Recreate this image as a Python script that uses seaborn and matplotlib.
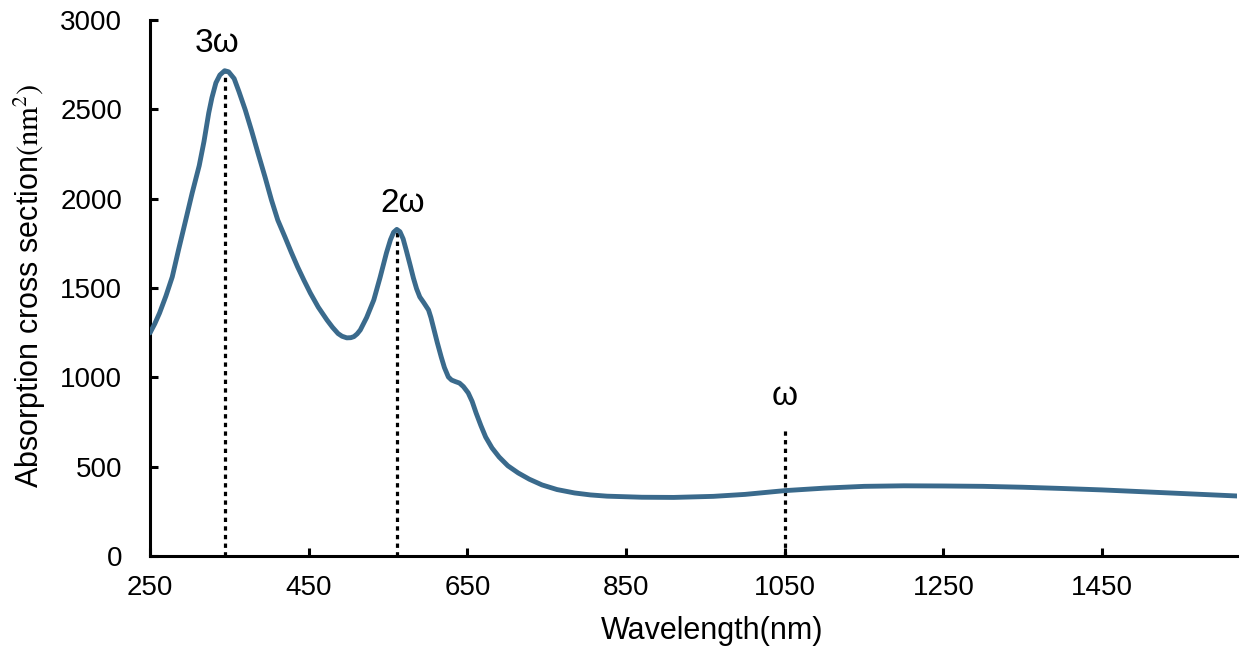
import numpy as np
import pandas as pd
import matplotlib
matplotlib.use("Agg")
import matplotlib.pyplot as plt
import seaborn as sns

# Data
wavelength = [250, 256, 262, 270, 278, 286, 295, 303, 312, 318, 324, 328, 333,
              338, 344, 349, 356, 362, 370, 378, 386, 395, 403, 411, 420, 428,
              436, 444, 452, 462, 473, 480, 487, 492, 498, 503, 507, 511, 515,
              523, 532, 540, 548, 553, 557, 561, 565, 569, 573, 578, 582, 586,
              590, 595, 601, 604, 608, 612, 617, 621, 626, 630, 635, 640, 645,
              651, 656, 661, 667, 673, 681, 690, 701, 714, 728, 744, 763, 785,
              805, 826, 870, 910, 960, 1000, 1050, 1100, 1150, 1200, 1250, 1300,
              1350, 1400, 1450, 1500, 1550, 1600, 1620]
absorption = [1249, 1300, 1360, 1455, 1562, 1715, 1881, 2030, 2185, 2320, 2480,
              2565, 2648, 2692, 2716, 2710, 2672, 2600, 2497, 2380, 2256, 2120,
              1993, 1880, 1786, 1700, 1618, 1543, 1472, 1393, 1321, 1280, 1245,
              1230, 1221, 1222, 1228, 1243, 1265, 1335, 1433, 1560, 1697, 1770,
              1812, 1828, 1815, 1775, 1710, 1625, 1555, 1495, 1450, 1418, 1377,
              1335, 1265, 1195, 1114, 1055, 1002, 985, 976, 968, 948, 913, 865,
              800, 730, 666, 605, 554, 505, 465, 430, 398, 372, 353, 342, 335,
              329, 328, 334, 345, 366, 380, 390, 393, 392, 390, 385, 378, 370,
              360, 350, 340, 336]

marker_labels = ["3ω", "2ω", "ω"]
marker_x = [345, 561, 1050]
marker_top = [2716, 1828, 705]
label_x = [334, 568, 1050]
label_y = [2822, 1926, 845]

x_ticks = [250, 450, 650, 850, 1050, 1250, 1450]
y_ticks = [0, 500, 1000, 1500, 2000, 2500, 3000]

sns.set_theme(style="ticks")
plt.rcParams["font.family"] = ["Liberation Sans", "DejaVu Sans"]
plt.rcParams["mathtext.fontset"] = "stix"

fig = plt.figure(figsize=(12.41, 6.55), dpi=100)
ax = fig.add_axes([0.1209, 0.1511, 0.8759, 0.8184])

df = pd.DataFrame({"Wavelength": wavelength, "Absorption": absorption})
sns.lineplot(data=df, x="Wavelength", y="Absorption", ax=ax, color="#3a6a8c",
             linewidth=3.5, solid_joinstyle="round", solid_capstyle="round",
             zorder=3)

for xv, top in zip(marker_x, marker_top):
    ax.plot([xv, xv], [0, top], color="black", linewidth=2.3,
            linestyle=(0, (1.35, 1.35)), zorder=2)
for lab, lx, ly in zip(marker_labels, label_x, label_y):
    ax.text(lx, ly, lab, ha="center", va="baseline", fontsize=24,
            color="black")

ax.set_xlim(250, 1620)
ax.set_ylim(0, 3000)
ax.set_xticks(x_ticks)
ax.set_yticks(y_ticks)
ax.tick_params(axis="both", direction="in", length=6, width=2.2,
               labelsize=20, colors="black")
ax.tick_params(axis="y", pad=20)
ax.tick_params(axis="x", pad=14)

for s in ["top", "right"]:
    ax.spines[s].set_visible(False)
for s in ["left", "bottom"]:
    ax.spines[s].set_linewidth(2.2)
    ax.spines[s].set_color("black")

ax.set_xlabel("Wavelength(nm)", fontsize=22, color="black")
ax.set_ylabel(r"Absorption cross section$(\mathrm{nm}^2)$", fontsize=22,
              color="black")
ax.xaxis.set_label_coords(0.517, -0.112)
ax.yaxis.set_label_coords(-0.094, 0.505)

fig.savefig("out.png", dpi=100)
